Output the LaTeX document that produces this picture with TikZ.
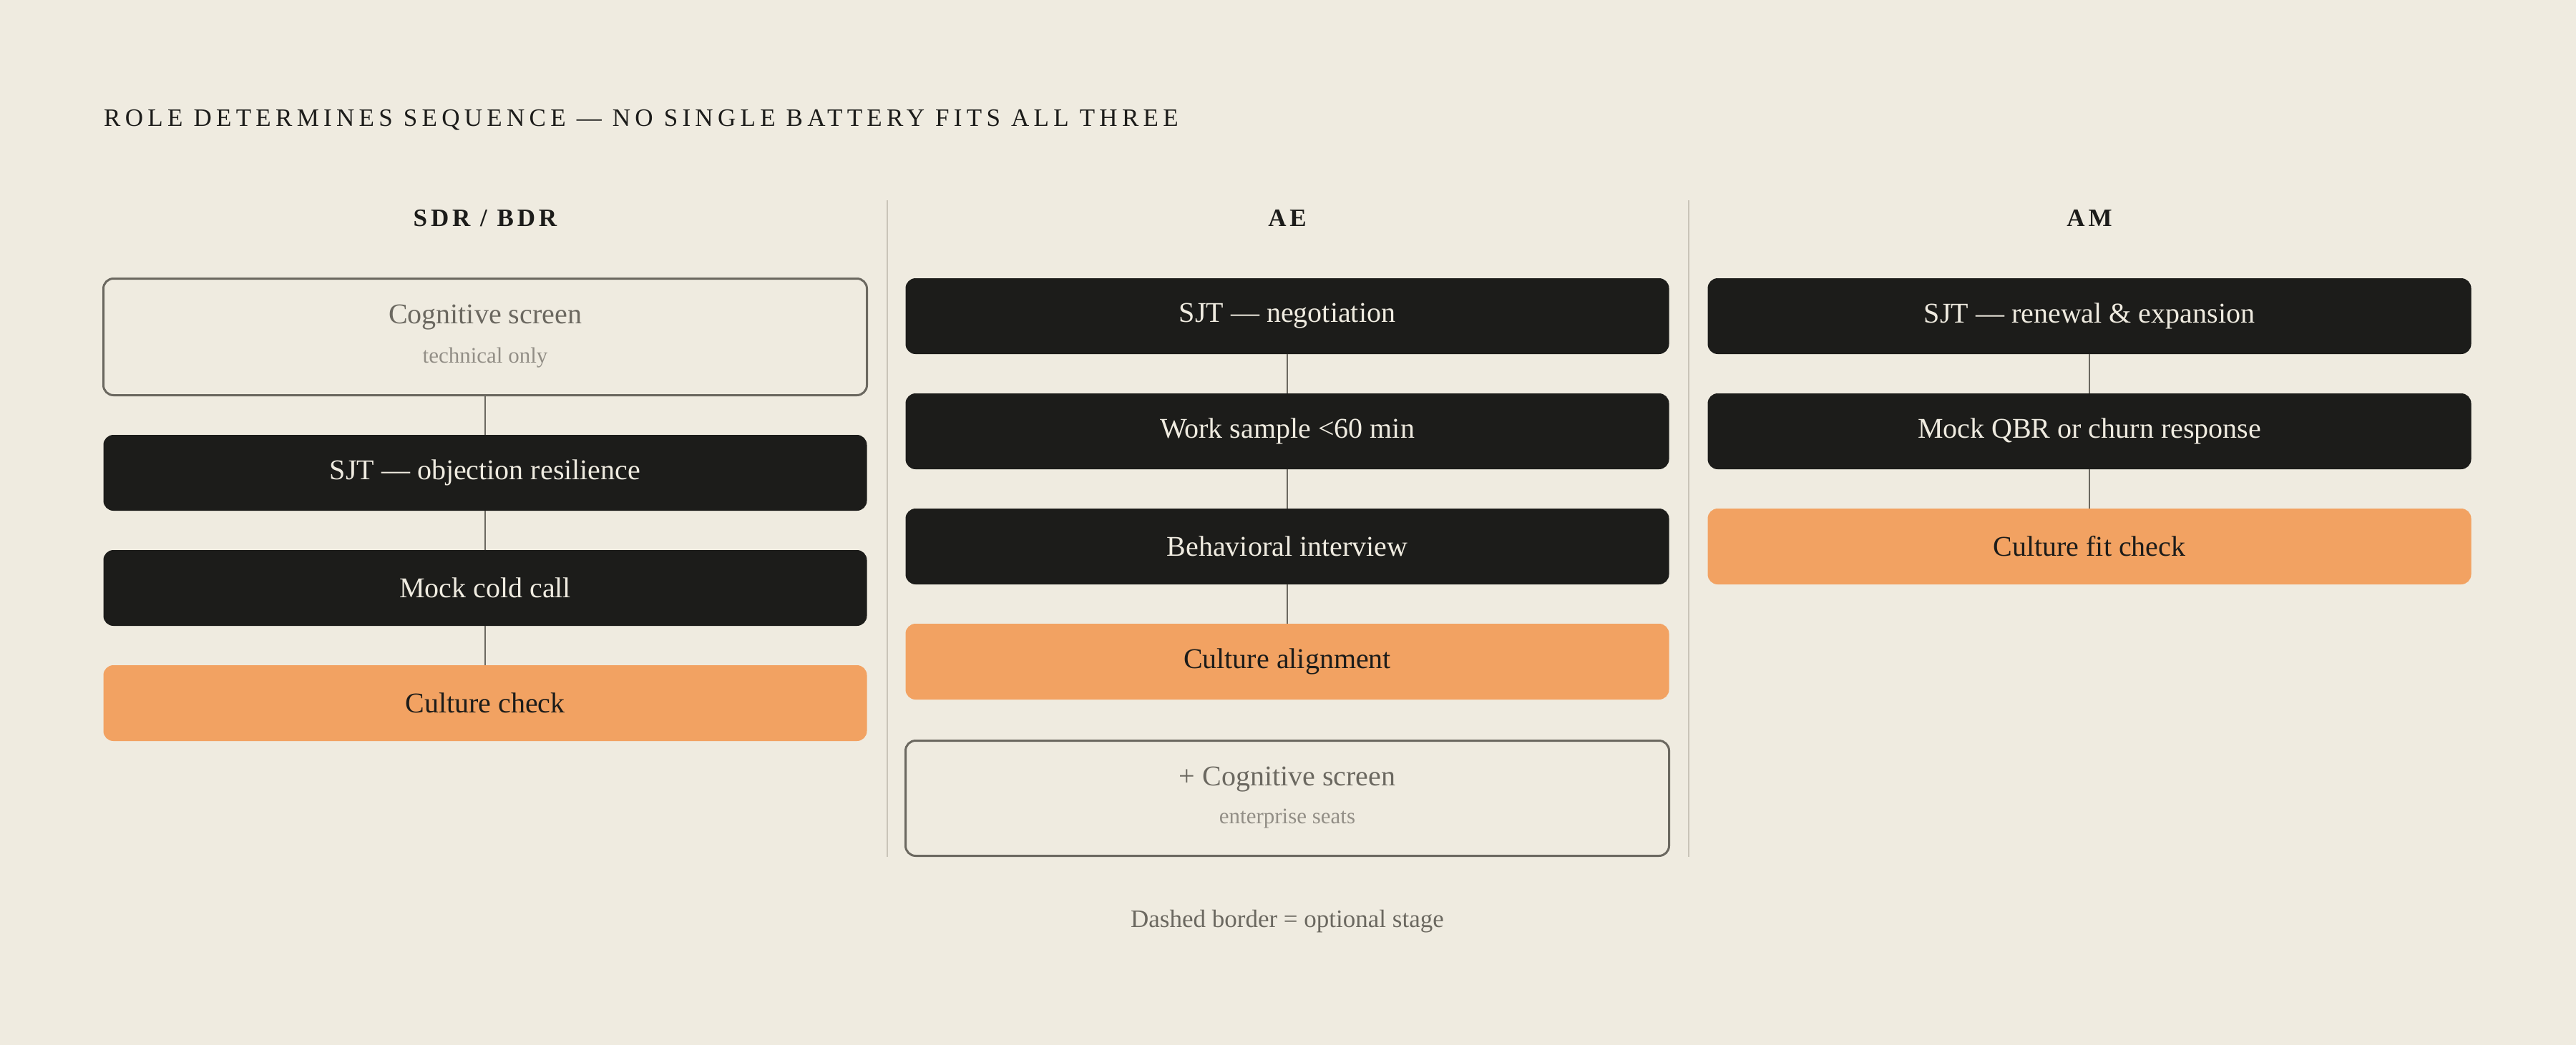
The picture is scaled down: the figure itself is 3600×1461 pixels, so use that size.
\documentclass[tikz,border=0pt]{standalone}
\usepackage{fontspec}
\setmainfont{Liberation Serif}
\newfontfamily\spaced[LetterSpace=18]{Liberation Serif}
\newfontfamily\spacedb[LetterSpace=14]{Liberation Serif}
\definecolor{bg}{HTML}{EFEBE0}
\definecolor{dk}{HTML}{1C1C1A}
\definecolor{org}{HTML}{F2A262}
\definecolor{ln}{HTML}{6B6860}
\definecolor{gt}{HTML}{6B6860}
\definecolor{lt}{HTML}{928E86}
\definecolor{dv}{HTML}{C9C4B8}
\begin{document}
\begin{tikzpicture}[x=1pt,y=-1pt,
 base/.style={rectangle,rounded corners=14pt,minimum width=1067pt,minimum height=106pt,inner sep=0pt,font=\fontsize{40}{48}\selectfont,align=center},
 dark/.style={base,fill=dk,text=bg},
 orng/.style={base,fill=org,text=dk},
 opt/.style={base,draw=ln,line width=3pt,fill=bg,text=gt,minimum height=161pt},
 con/.style={draw=ln,line width=2.5pt},
 hdr/.style={font=\spacedb\bfseries\fontsize{35}{40}\selectfont,text=dk},
 sub/.style={font=\fontsize{31}{36}\selectfont,text=lt}]
\fill[bg] (0,0) rectangle (3600,1461);
\useasboundingbox (0,0) rectangle (3600,1461);
\node[anchor=west,font=\spaced\fontsize{35}{40}\selectfont,text=dk,inner sep=0pt] (title) at (145,168) {ROLE DETERMINES SEQUENCE — NO SINGLE BATTERY FITS ALL THREE};
\draw[dv,line width=2.5pt] (1240,280) coordinate (d1a) -- (1240,1198) coordinate (d1b);
\draw[dv,line width=2.5pt] (2360,280) coordinate (d2a) -- (2360,1198) coordinate (d2b);
\node[hdr] (h1) at (678,305) {SDR / BDR};
\node[hdr] (h2) at (1799,305) {AE};
\node[hdr] (h3) at (2920,305) {AM};
% col1
\node[opt,minimum height=163pt] (a1) at (678,471) {};
\node[text=gt,font=\fontsize{40}{48}\selectfont] (a1t) at (678,444) {Cognitive screen};
\node[sub] (a1s) at (678,500) {technical only};
\node[dark] (a2) at (678,661) {SJT — objection resilience};
\node[dark] (a3) at (678,822) {Mock cold call};
\node[orng] (a4) at (678,983) {Culture check};
\draw[con] (a1.south) -- (a2.north);
\draw[con] (a2.south) -- (a3.north);
\draw[con] (a3.south) -- (a4.north);
% col2
\node[dark] (b1) at (1799,442) {SJT — negotiation};
\node[dark] (b2) at (1799,603) {Work sample <60 min};
\node[dark] (b3) at (1799,764) {Behavioral interview};
\node[orng] (b4) at (1799,925) {Culture alignment};
\node[opt] (b5) at (1799,1116) {};
\node[text=gt,font=\fontsize{40}{48}\selectfont] (b5t) at (1799,1090) {+ Cognitive screen};
\node[sub] (b5s) at (1799,1145) {enterprise seats};
\draw[con] (b1.south) -- (b2.north);
\draw[con] (b2.south) -- (b3.north);
\draw[con] (b3.south) -- (b4.north);
% col3
\node[dark] (c1) at (2920,442) {SJT — renewal \& expansion};
\node[dark] (c2) at (2920,603) {Mock QBR or churn response};
\node[orng] (c3) at (2920,764) {Culture fit check};
\draw[con] (c1.south) -- (c2.north);
\draw[con] (c2.south) -- (c3.north);
\node[font=\fontsize{35}{40}\selectfont,text=gt] (foot) at (1799,1288) {Dashed border = optional stage};
\end{tikzpicture}
\end{document}
